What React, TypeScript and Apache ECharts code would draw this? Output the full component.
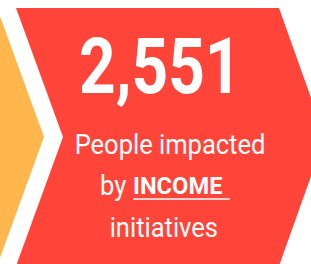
import React, { useEffect, useRef } from "react";
import * as echarts from "echarts";

const impactedValues = [2551];
const categories = ["INCOME"];
const captionBefore = ["People impacted", "by"];
const captionAfter = ["initiatives"];

const RED = "#FF443A";
const ORANGE = "#FFB74D";

function scaledText(
  x: number,
  y: number,
  sx: number,
  text: string,
  font: string,
  align: string
) {
  return {
    type: "group",
    x,
    y,
    scaleX: sx,
    children: [
      {
        type: "text",
        x: 0,
        y: 0,
        style: { text, fill: "#fff", font, align, verticalAlign: "middle" },
      },
    ],
  };
}

export default function App() {
  const ref = useRef<HTMLDivElement>(null);
  useEffect(() => {
    document.body.style.margin = "0";
    const chart = echarts.init(ref.current!, null, { renderer: "svg" });
    const value = impactedValues[0].toLocaleString("en-US");
    const f = "Roboto";
    chart.setOption({
      animation: false,
      graphic: [
        {
          type: "polygon",
          shape: {
            points: [
              [-300, 8],
              [-3, 8],
              [44, 137],
              [-3, 266],
              [-300, 266],
            ],
          },
          style: { fill: ORANGE },
        },
        {
          type: "polygon",
          shape: {
            points: [
              [16, 8],
              [279, 8],
              [325, 137],
              [279, 266],
              [16, 266],
              [63, 137],
            ],
          },
          style: { fill: RED },
        },
        scaledText(160.3, 66.6, 0.82, value, `bold 78px ${f}`, "center"),
        scaledText(170, 144.8, 0.945, captionBefore[0], `27px ${f}`, "center"),
        scaledText(100, 185.3, 0.945, captionBefore[1], `27px ${f}`, "left"),
        scaledText(133, 186.6, 1.03, categories[0], `bold 23px ${f}`, "left"),
        {
          type: "line",
          shape: { x1: 133, y1: 199, x2: 230, y2: 199 },
          style: { stroke: "#fff", lineWidth: 1.6 },
        },
        scaledText(163.8, 227.3, 0.945, captionAfter[0], `27px ${f}`, "center"),
      ],
    });
    return () => chart.dispose();
  }, []);
  return <div ref={ref} style={{ width: 311, height: 264 }} />;
}
